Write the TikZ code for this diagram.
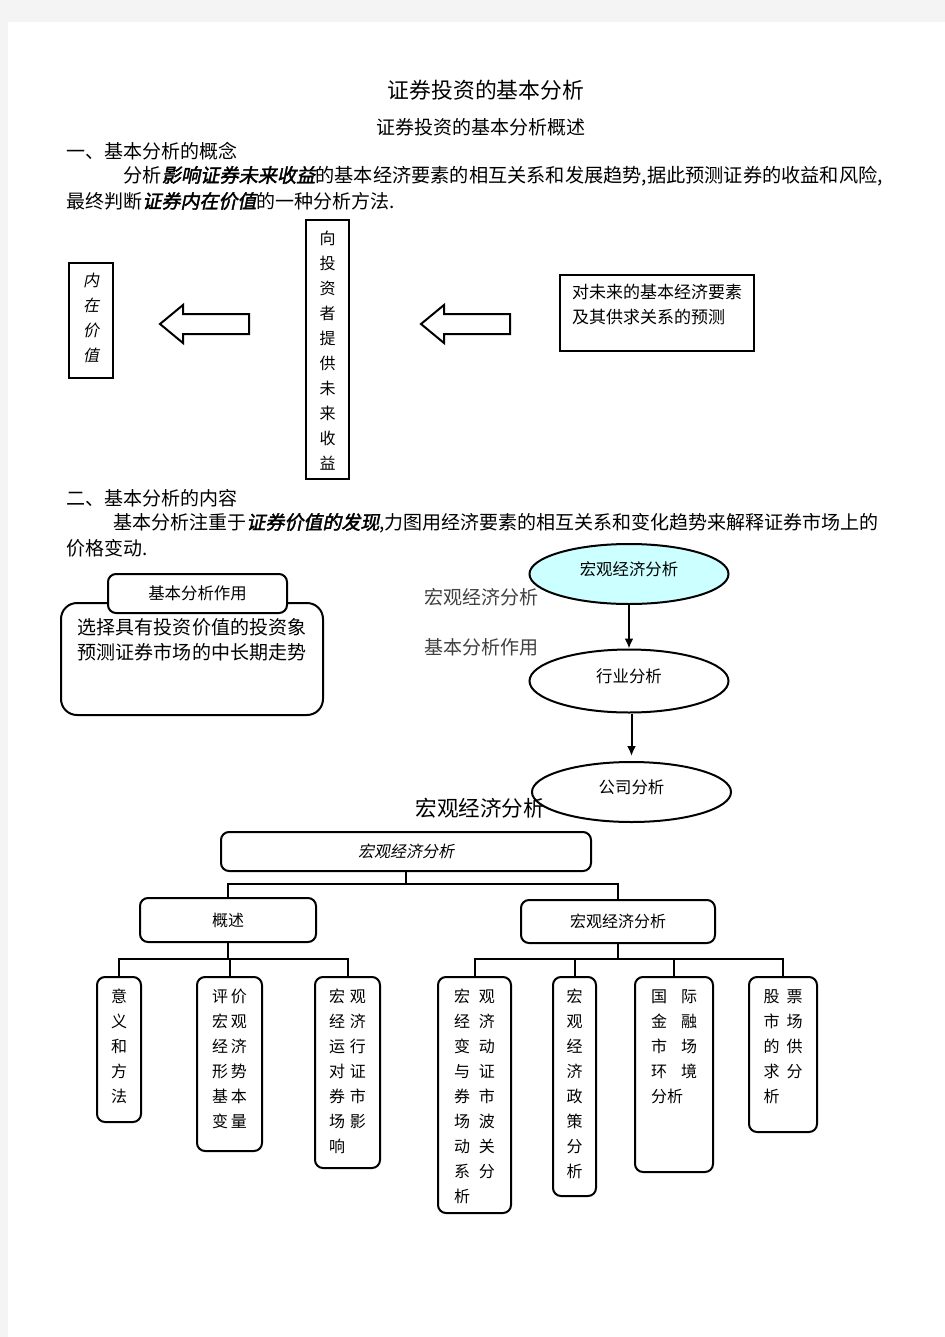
\documentclass[tikz,border=0pt]{standalone}
\usepackage{fontspec}
\setmainfont{Noto Sans CJK SC}
\newfontfamily\slantcjk[FakeSlant=0.2]{Noto Sans CJK SC}
\newfontfamily\boldslant[FakeSlant=0.2,FakeBold=2]{Noto Sans CJK SC}
\usetikzlibrary{arrows.meta,positioning,calc,shapes.geometric}

\definecolor{pagegray}{HTML}{F4F4F4}
\definecolor{lightcyan}{HTML}{CCFFFF}

% text set from the top of a box of fixed size
\newcommand\boxtext[4]{\parbox[c][#2][t]{#1}{\centering\baselineskip=12.5pt\rule{0pt}{#3}#4\par}}
\newcommand\hollowarrow[1]{%
  \draw[line width=1pt, shift={#1}] (0,0) -- (23,-19) -- (23,-10) -- (89,-10) -- (89,10) -- (23,10) -- (23,19) -- cycle;}

\begin{document}
\begin{tikzpicture}[x=0.5pt, y=-0.5pt,
    sqbox/.style={draw, line width=1pt, inner sep=0pt, font=\fontsize{8}{10}\selectfont},
    rbox/.style={sqbox, rounded corners=4pt},
    oval/.style={ellipse, draw, line width=1pt, inner sep=0pt, minimum width=99.5pt, minimum height=30pt, text height=5pt, text depth=4pt, font=\fontsize{8.2}{10}\selectfont},
    txt/.style={inner sep=0pt, anchor=west, font=\fontsize{9.5}{12}\selectfont},
    link/.style={line width=1pt},
    flow/.style={line width=1pt, -{Latex[length=5pt,width=4.5pt]}}]
    \fill[pagegray] (0,0) rectangle (945,1337);
    \fill[white] (8,22) rectangle (945,1337);
    \useasboundingbox (0,0) rectangle (945,1337);

    % part one
    \node[inner sep=0pt, font=\fontsize{10.9}{13}\selectfont] (title) at (486,90) {证券投资的基本分析};
    \node[inner sep=0pt, font=\fontsize{9.5}{12}\selectfont] (subtitle) at (481,127) {证券投资的基本分析概述};
    \node[txt] (headone) at (66,151) {一、基本分析的概念};
    \node[txt, font=\fontsize{9.6}{12}\selectfont] (paraone) at (123,176) {分析{\boldslant 影响证券未来收益}的基本经济要素的相互关系和发展趋势,据此预测证券的收益和风险,};
    \node[txt] (paraonb) at (66,201) {最终判断{\boldslant 证券内在价值}的一种分析方法.};

    \node[sqbox, font=\slantcjk\fontsize{8}{10}\selectfont] (value) at (91,320.5) {\boxtext{22pt}{57.5pt}{11.5pt}{内\\在\\价\\值}};
    \node[sqbox] (income) at (327.5,349.5) {\boxtext{21.5pt}{129.5pt}{12pt}{向\\投\\资\\者\\提\\供\\未\\来\\收\\益}};
    \node[sqbox, font=\fontsize{8.5}{10}\selectfont] (forecast) at (657,313) {\boxtext{97pt}{38pt}{11.7pt}{\makebox[85pt][l]{对未来的基本经济要素}\\\makebox[85pt][l]{及其供求关系的预测}}};
    \hollowarrow{(160,324)}
    \hollowarrow{(421,324)}

    % part two
    \node[txt] (headtwo) at (66,498) {二、基本分析的内容};
    \node[txt] (paratwo) at (113,523) {基本分析注重于{\boldslant 证券价值的发现},力图用经济要素的相互关系和变化趋势来解释证券市场上的};
    \node[txt] (paratwb) at (66,548) {价格变动.};

    \node[rbox, rounded corners=8pt, font=\fontsize{9.5}{12}\selectfont] (roleframe) at (192,659) {\boxtext{131pt}{56pt}{15.6pt}{选择具有投资价值的投资象\\预测证券市场的中长期走势}};
    \node[rbox, fill=white, minimum width=89.5pt, minimum height=19.5pt, font=\fontsize{8.2}{10}\selectfont] (roletab) at (197.5,593.5) {基本分析作用};
    \node[txt, text=black!75] (macrolabel) at (424,597) {宏观经济分析};
    \node[txt, text=black!75] (rolelabel) at (424,647) {基本分析作用};

    \node[oval, fill=lightcyan] (macro) at (629,574) {宏观经济分析};
    \node[oval, minimum height=31.5pt] (industry) at (629,681) {行业分析};
    \node[oval] (company) at (631.5,792) {公司分析};
    \draw[flow] (macro) -- (industry);
    \draw[flow, shorten >=2.5pt] (industry.south -| company.north) -- (company.north);
    \node[txt, font=\fontsize{10.8}{13}\selectfont] (macrobig) at (415,808) {宏观经济分析};

    % tree
    \node[rbox, minimum width=185pt, minimum height=19.5pt, font=\slantcjk\fontsize{8}{10}\selectfont] (root) at (406,851.5) {宏观经济分析};
    \node[rbox, minimum width=88pt, minimum height=22pt] (overview) at (228,920) {概述};
    \node[rbox, minimum width=97pt, minimum height=21.5pt] (macrosub) at (618,921.5) {宏观经济分析};
    \coordinate (rootbar) at (406,884);
    \draw[link] (root) -- (rootbar);
    \draw[link] (overview.north) |- (rootbar) -| (macrosub.north);

    \node[rbox] (meaning) at (119,1049.5) {\boxtext{22pt}{72.5pt}{12.8pt}{意\\义\\和\\方\\法}};
    \node[rbox] (variable) at (229.5,1064) {\boxtext{32.5pt}{87pt}{12.8pt}{评\,价\\宏\,观\\经\,济\\形\,势\\基\,本\\变\,量}};
    \node[rbox] (impact) at (347.5,1072.5) {\boxtext{32.5pt}{95.5pt}{12.8pt}{宏\hspace{2.5pt}观\\经\hspace{2.5pt}济\\运\hspace{2.5pt}行\\对\hspace{2.5pt}证\\券\hspace{2.5pt}市\\场\hspace{2.5pt}影\\\makebox[18.5pt][l]{响}}};
    \coordinate (overviewbar) at (228,959);
    \draw[link] (overview) -- (overviewbar);
    \draw[link] (meaning.north) |- (overviewbar) -| (impact.north);
    \draw[link] (variable.north) -- (variable.north |- overviewbar);

    \node[rbox] (fluctuation) at (474.5,1095) {\boxtext{36.5pt}{118pt}{12.8pt}{宏\hspace{4.5pt}观\\经\hspace{4.5pt}济\\变\hspace{4.5pt}动\\与\hspace{4.5pt}证\\券\hspace{4.5pt}市\\场\hspace{4.5pt}波\\动\hspace{4.5pt}关\\系\hspace{4.5pt}分\\\makebox[20.5pt][l]{析}}};
    \node[rbox] (policy) at (574.5,1086.5) {\boxtext{21.5pt}{109.5pt}{12.8pt}{宏\\观\\经\\济\\政\\策\\分\\析}};
    \node[rbox] (global) at (674,1074.5) {\boxtext{39pt}{97.5pt}{12.8pt}{国\hspace{7pt}际\\金\hspace{7pt}融\\市\hspace{7pt}场\\环\hspace{7pt}境\\\makebox[23pt][l]{分析}}};
    \node[rbox] (supply) at (783,1054.5) {\boxtext{34pt}{77.5pt}{12.8pt}{股\hspace{3.5pt}票\\市\hspace{3.5pt}场\\的\hspace{3.5pt}供\\求\hspace{3.5pt}分\\\makebox[19.5pt][l]{析}}};
    \coordinate (macrobar) at (618,959);
    \draw[link] (macrosub) -- (macrobar);
    \draw[link] (fluctuation.north) |- (macrobar) -| (supply.north);
    \draw[link] (policy.north) -- (policy.north |- macrobar);
    \draw[link] (global.north) -- (global.north |- macrobar);
\end{tikzpicture}
\end{document}
